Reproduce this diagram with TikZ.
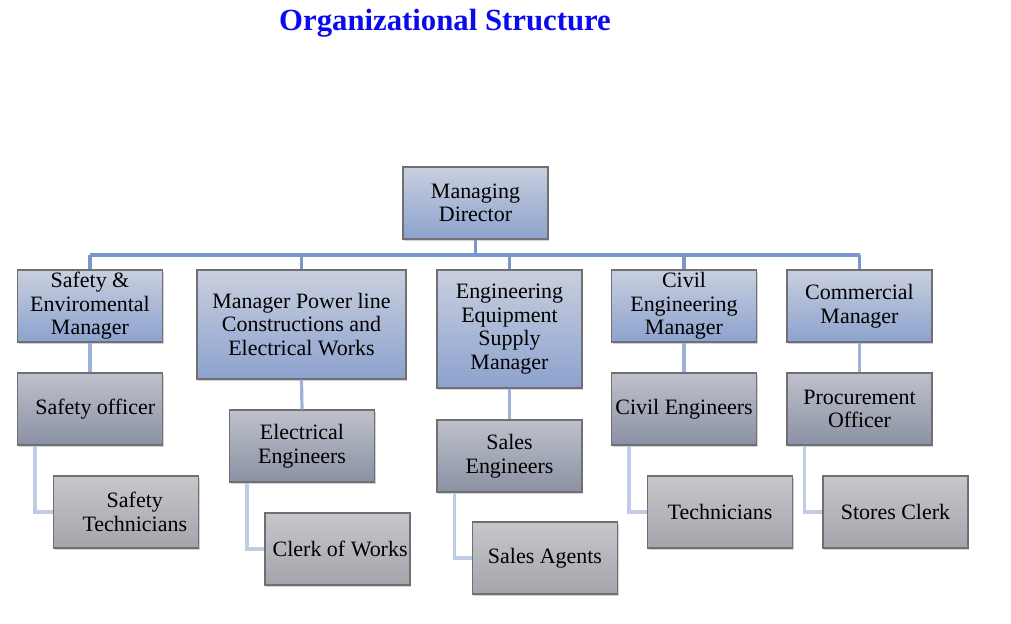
\documentclass[tikz,border=0pt]{standalone}
\usepackage{fontspec}
\setmainfont{Liberation Serif}
\usetikzlibrary{shadows}

\definecolor{mgrtop}{RGB}{201,207,222}
\definecolor{mgrbot}{RGB}{140,162,206}
\definecolor{stafftop}{RGB}{190,193,204}
\definecolor{staffbot}{RGB}{138,145,163}
\definecolor{helptop}{RGB}{198,199,203}
\definecolor{helpbot}{RGB}{163,165,171}
\definecolor{busline}{RGB}{122,150,204}
\definecolor{midline}{RGB}{157,178,218}
\definecolor{lowline}{RGB}{192,204,230}
\definecolor{boxedge}{RGB}{112,112,116}
\definecolor{titleblue}{RGB}{10,10,240}

\begin{document}
\begin{tikzpicture}[x=0.02cm, y=-0.02cm,
    post/.style={draw=boxedge, line width=0.6pt, align=center, inner sep=1pt,
        minimum width=2.9cm, minimum height=1.44cm,
        font=\fontsize{12.5}{13.4}\selectfont,
        drop shadow={shadow xshift=0.6pt, shadow yshift=-1pt, opacity=0.35}},
    manager/.style={post, top color=mgrtop, bottom color=mgrbot},
    staff/.style={post, top color=stafftop, bottom color=staffbot},
    helper/.style={post, top color=helptop, bottom color=helpbot},
    bus/.style={busline, line width=1.8pt},
    midlink/.style={midline, line width=1.8pt},
    lowlink/.style={lowline, line width=1.8pt}]
        \useasboundingbox (0,0) rectangle (1011,623);

        % Title
        \node[titleblue, font=\fontsize{17.5}{20}\bfseries\selectfont] (title) at (445,23) {Organizational Structure};

        % Top: managing director
        \node[manager] (md) at (475.5,203) {Managing\\Director};

        % Heads of departments
        \node[manager] (safe) at (90,306) {Safety \&\\Enviromental\\Manager};
        \node[manager, minimum width=4.18cm, minimum height=2.18cm] (power) at (301.5,324.5) {Manager Power line\\Constructions and\\Electrical Works};
        \node[manager, minimum height=2.36cm] (equip) at (509.5,329) {Engineering\\Equipment\\Supply\\Manager};
        \node[manager] (civil) at (684,306) {Civil\\Engineering\\Manager};
        \node[manager] (comm) at (859.5,306) {Commercial\\Manager};

        % Second level
        \node[staff] (safeoff) at (90,409) {\hspace*{6pt}Safety officer};
        \node[staff] (eleng) at (302,446) {Electrical\\Engineers};
        \node[staff] (saleng) at (509.5,456) {Sales\\Engineers};
        \node[staff] (civeng) at (684,409) {Civil Engineers};
        \node[staff] (procure) at (859.5,409) {Procurement\\Officer};

        % Third level
        \node[helper] (safetech) at (126,512) {\hspace*{10pt}Safety\\\hspace*{10pt}Technicians};
        \node[helper] (clerk) at (337.5,549) {\hspace*{3pt}Clerk of Works};
        \node[helper] (agents) at (545,558) {Sales Agents};
        \node[helper] (tech) at (720,512) {Technicians};
        \node[helper] (stores) at (895.5,512) {Stores Clerk};

        % Bus under the director
        \coordinate (busmid) at (475.5,255);
        \draw[bus] (md.south) -- (busmid);
        \draw[bus] (busmid -| safe.north) -- (busmid -| comm.north);
        \foreach \dept in {safe,power,equip,civil,comm}
            \draw[bus] (busmid -| \dept.north) -- (\dept.north);

        % Department to staff
        \foreach \up/\down in {safe/safeoff,power/eleng,equip/saleng,civil/civeng,comm/procure}
            \draw[midlink] (\up.south) -- (\down.north);

        % Staff to helpers (elbows)
        \foreach \up/\down in {safeoff/safetech,eleng/clerk,saleng/agents,civeng/tech,procure/stores}
            \draw[lowlink] ([xshift=0.36cm]\up.south west) |- (\down.west);
\end{tikzpicture}
\end{document}
